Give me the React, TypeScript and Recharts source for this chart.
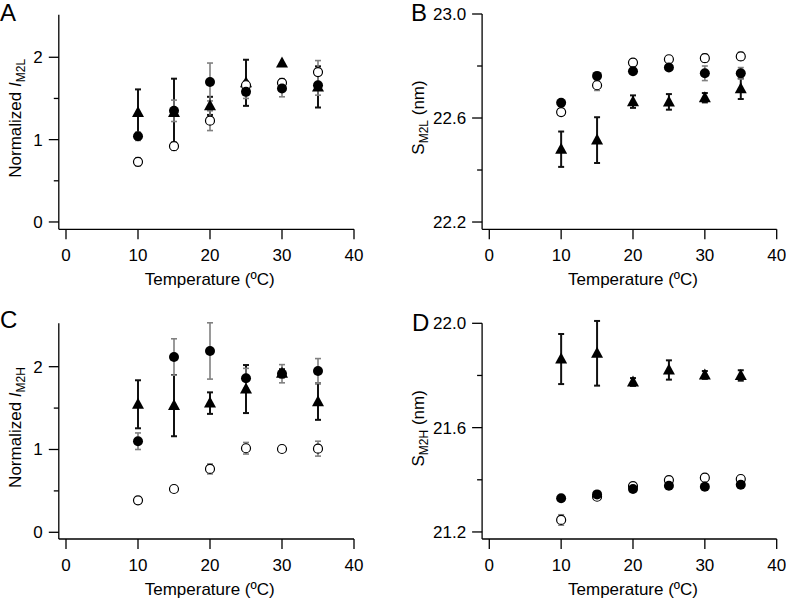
import { ErrorBar, Scatter, ScatterChart, XAxis, YAxis } from "recharts";

const temps = [10, 15, 20, 25, 30, 35];
const xTicks = [0, 10, 20, 30, 40];

// panel A: normalized I M2L
const aTri = [1.33, 1.33, 1.41, 1.69, 1.93, 1.64];
const aTriErr = [0.28, 0.41, 0.11, 0.28, 0, 0.25];
const aFilled = [1.04, 1.35, 1.7, 1.58, 1.62, 1.66];
const aFilledErr = [0.05, 0.13, 0.23, 0.08, 0.1, 0.12];
const aOpen = [0.73, 0.92, 1.23, 1.66, 1.69, 1.82];
const aOpenErr = [0.05, 0.05, 0.12, 0.05, 0.05, 0.14];

// panel B: S M2L (nm)
const bTri = [22.48, 22.515, 22.663, 22.662, 22.678, 22.713];
const bTriErr = [0.068, 0.088, 0.024, 0.03, 0.018, 0.04];
const bFilled = [22.659, 22.762, 22.78, 22.794, 22.772, 22.772];
const bFilledErr = [0.01, 0.012, 0.01, 0.01, 0.028, 0.022];
const bOpen = [22.623, 22.726, 22.813, 22.826, 22.83, 22.837];
const bOpenErr = [0.01, 0.02, 0.01, 0.01, 0.015, 0.015];

// panel C: normalized I M2H
const cTri = [1.546, 1.53, 1.56, 1.73, 1.92, 1.578];
const cTriErr = [0.29, 0.37, 0.13, 0.29, 0.05, 0.22];
const cFilled = [1.1, 2.117, 2.19, 1.86, 1.915, 1.948];
const cFilledErr = [0.1, 0.22, 0.34, 0.12, 0.11, 0.15];
const cOpen = [0.386, 0.523, 0.765, 1.015, 1.006, 1.01];
const cOpenErr = [0, 0, 0.06, 0.07, 0, 0.09];

// panel D: S M2H (nm)
const dTri = [21.863, 21.885, 21.775, 21.821, 21.802, 21.8];
const dTriErr = [0.096, 0.124, 0.015, 0.037, 0.015, 0.02];
const dFilled = [21.329, 21.344, 21.365, 21.377, 21.373, 21.381];
const dFilledErr = [0, 0, 0, 0, 0, 0];
const dOpen = [21.246, 21.335, 21.376, 21.399, 21.408, 21.403];
const dOpenErr = [0.02, 0.01, 0, 0, 0, 0];

const intTicks = [0, 0.5, 1, 1.5, 2];
const intLabels = [0, 1, 2];
const bTicks = [22.2, 22.4, 22.6, 22.8, 23.0];
const bLabels = [22.2, 22.6, 23.0];
const dTicks = [21.2, 21.4, 21.6, 21.8, 22.0];
const dLabels = [21.2, 21.6, 22.0];

const FONT = "'Liberation Sans', Arial, Helvetica, sans-serif";

type Row = { x: number; y: number; e: number };

function rows(vals: number[], errs: number[]): Row[] {
  return temps.map((t, i) => ({ x: t, y: vals[i], e: errs[i] }));
}

function Triangle(props: any) {
  const { cx, cy } = props;
  return (
    <path
      d={`M${cx},${cy - 6.5}L${cx + 6},${cy + 4.5}L${cx - 6},${cy + 4.5}Z`}
      fill="#000"
    />
  );
}

function FilledDot(props: any) {
  return <circle cx={props.cx} cy={props.cy} r={5} fill="#000" />;
}

function OpenDot(props: any) {
  return (
    <circle
      cx={props.cx}
      cy={props.cy}
      r={4.5}
      fill="#fff"
      stroke="#000"
      strokeWidth={1.2}
    />
  );
}

type PanelProps = {
  left: number;
  top: number;
  plotL: number;
  plotT: number;
  plotR: number;
  plotB: number;
  yDomain: [number, number];
  yTicks: number[];
  yLabels: number[];
  digits: number;
  tri: Row[];
  filled: Row[];
  open: Row[];
};

const W = 393;
const H = 299;

function Panel({
  left,
  top,
  plotL,
  plotT,
  plotR,
  plotB,
  yDomain,
  yTicks,
  yLabels,
  digits,
  tri,
  filled,
  open,
}: PanelProps) {
  const xAxisH = 40;
  const yAxisW = 40;

  const renderYTick = (p: any) => {
    const v = Number(p.payload.value);
    const major = yLabels.some((l) => Math.abs(l - v) < 1e-6);
    const len = major ? 10 : 5;
    return (
      <g>
        <line
          x1={plotL - len}
          x2={plotL}
          y1={p.y}
          y2={p.y}
          stroke="#000"
          strokeWidth={1.3}
        />
        {major && (
          <text
            x={plotL - 16}
            y={p.y + 6}
            textAnchor="end"
            fontSize={17}
            fontFamily={FONT}
            fill="#000"
          >
            {v.toFixed(digits)}
          </text>
        )}
      </g>
    );
  };

  const renderXTick = (p: any) => (
    <g>
      <line
        x1={p.x}
        x2={p.x}
        y1={plotB}
        y2={plotB + 10}
        stroke="#000"
        strokeWidth={1.3}
      />
      <text
        x={p.x}
        y={plotB + 32}
        textAnchor="middle"
        fontSize={17}
        fontFamily={FONT}
        fill="#000"
      >
        {p.payload.value}
      </text>
    </g>
  );

  return (
    <div style={{ position: "absolute", left, top, width: W, height: H }}>
      <ScatterChart
        width={W}
        height={H}
        margin={{
          top: plotT,
          left: plotL - yAxisW,
          right: W - plotR,
          bottom: H - plotB - xAxisH,
        }}
      >
        <XAxis
          type="number"
          dataKey="x"
          domain={[-1, 40]}
          ticks={xTicks}
          interval={0}
          allowDataOverflow
          height={xAxisH}
          axisLine={{ stroke: "#000", strokeWidth: 1.3 }}
          tickLine={false}
          tick={renderXTick}
        />
        <YAxis
          type="number"
          dataKey="y"
          domain={yDomain}
          ticks={yTicks}
          interval={0}
          allowDataOverflow
          width={yAxisW}
          axisLine={{ stroke: "#000", strokeWidth: 1.3 }}
          tickLine={false}
          tick={renderYTick}
        />
        <Scatter data={tri} shape={Triangle} isAnimationActive={false}>
          <ErrorBar
            dataKey="e"
            direction="y"
            width={3}
            stroke="#111"
            strokeWidth={2}
          />
        </Scatter>
        <Scatter data={open} shape={OpenDot} isAnimationActive={false}>
          <ErrorBar
            dataKey="e"
            direction="y"
            width={3}
            stroke="#808080"
            strokeWidth={1.6}
          />
        </Scatter>
        <Scatter data={filled} shape={FilledDot} isAnimationActive={false}>
          <ErrorBar
            dataKey="e"
            direction="y"
            width={3}
            stroke="#808080"
            strokeWidth={1.6}
          />
        </Scatter>
      </ScatterChart>
    </div>
  );
}

function YTitle({
  x,
  y,
  sub,
  intensity,
}: {
  x: number;
  y: number;
  sub: string;
  intensity: boolean;
}) {
  return (
    <text
      transform={`translate(${x},${y}) rotate(-90)`}
      textAnchor="middle"
      fontSize={17}
      fontFamily={FONT}
      fill="#000"
    >
      {intensity ? (
        <>
          {"Normalized "}
          <tspan fontStyle="italic">I</tspan>
          <tspan fontSize={12} dy={4}>
            {sub}
          </tspan>
        </>
      ) : (
        <>
          S
          <tspan fontSize={12} dy={4}>
            {sub}
          </tspan>
          <tspan dy={-4}> (nm)</tspan>
        </>
      )}
    </text>
  );
}

export default function App() {
  return (
    <div
      style={{
        position: "absolute",
        left: 0,
        top: 0,
        width: 786,
        height: 598,
        background: "#fff",
      }}
    >
      <Panel
        left={0}
        top={0}
        plotL={58.8}
        plotT={14.7}
        plotR={354}
        plotB={229.3}
        yDomain={[-0.089, 2.517]}
        yTicks={intTicks}
        yLabels={intLabels}
        digits={0}
        tri={rows(aTri, aTriErr)}
        filled={rows(aFilled, aFilledErr)}
        open={rows(aOpen, aOpenErr)}
      />
      <Panel
        left={393}
        top={0}
        plotL={89.1}
        plotT={14}
        plotR={383.7}
        plotB={229.3}
        yDomain={[22.172, 23.0]}
        yTicks={bTicks}
        yLabels={bLabels}
        digits={1}
        tri={rows(bTri, bTriErr)}
        filled={rows(bFilled, bFilledErr)}
        open={rows(bOpen, bOpenErr)}
      />
      <Panel
        left={0}
        top={299}
        plotL={58.8}
        plotT={24.3}
        plotR={354}
        plotB={240}
        yDomain={[-0.081, 2.524]}
        yTicks={intTicks}
        yLabels={intLabels}
        digits={0}
        tri={rows(cTri, cTriErr)}
        filled={rows(cFilled, cFilledErr)}
        open={rows(cOpen, cOpenErr)}
      />
      <Panel
        left={393}
        top={299}
        plotL={89.1}
        plotT={24.3}
        plotR={383.7}
        plotB={240}
        yDomain={[21.173, 22.0]}
        yTicks={dTicks}
        yLabels={dLabels}
        digits={1}
        tri={rows(dTri, dTriErr)}
        filled={rows(dFilled, dFilledErr)}
        open={rows(dOpen, dOpenErr)}
      />
      <svg
        width={786}
        height={598}
        style={{ position: "absolute", left: 0, top: 0, pointerEvents: "none" }}
      >
        <g fontFamily={FONT} fill="#000">
          <text x={0} y={21} fontSize={24}>A</text>
          <text x={411} y={21} fontSize={24}>B</text>
          <text x={0} y={328} fontSize={24}>C</text>
          <text x={412} y={330.5} fontSize={24}>D</text>
          <text x={209.7} y={284.8} fontSize={17} textAnchor="middle">
            Temperature (ºC)
          </text>
          <text x={633} y={284.8} fontSize={17} textAnchor="middle">
            Temperature (ºC)
          </text>
          <text x={209.7} y={594.5} fontSize={17} textAnchor="middle">
            Temperature (ºC)
          </text>
          <text x={633} y={594.5} fontSize={17} textAnchor="middle">
            Temperature (ºC)
          </text>
        </g>
        <YTitle x={21} y={118.3} sub="M2L" intensity />
        <YTitle x={424} y={117.5} sub="M2L" intensity={false} />
        <YTitle x={21} y={427.5} sub="M2H" intensity />
        <YTitle x={424} y={428.3} sub="M2H" intensity={false} />
      </svg>
    </div>
  );
}
